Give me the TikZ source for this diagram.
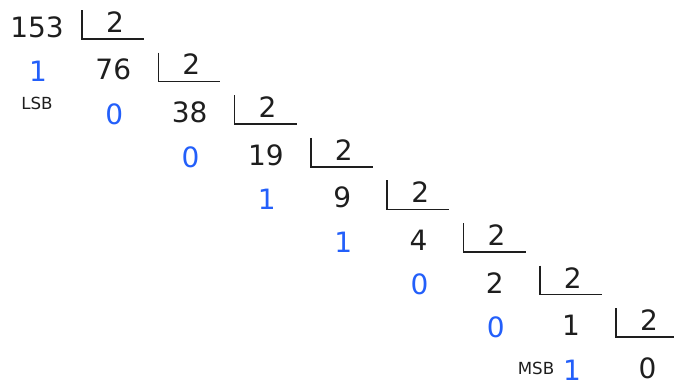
\documentclass[tikz,border=0pt]{standalone}
\usepackage{fontspec}
\setmainfont{DejaVu Sans}
\definecolor{bitblue}{RGB}{35,95,250}
\definecolor{ink}{RGB}{30,30,30}
\begin{document}
\begin{tikzpicture}[x=0.75pt,y=-0.75pt,
    num/.style={text=ink, font=\fontsize{21}{24}\selectfont},
    bit/.style={num, text=bitblue},
    tag/.style={text=ink, font=\fontsize{12.5}{14}\selectfont},
    bar/.style={draw=ink, line width=1.1pt}]
    \useasboundingbox (0,0) rectangle (674,387);

    % Quotients
    \foreach \q [count=\n from 0] in {153,76,38,19,9,4,2,1,0}
        \node[num] (q\n) at (37+76.3*\n, 27+42.6*\n) {\q};

    % Remainders (blue)
    \foreach \r [count=\n from 1] in {1,0,0,1,1,0,0,1}
        \node[bit] (r\n) at (38+76.3*\n-76.3, 29+42.6*\n) {\r};

    % Divisors with their brackets
    \foreach \n in {0,...,7}{
        \node[num] (d\n) at (115+76.3*\n, 22+42.6*\n) {2};
        \draw[bar] (82+76.3*\n, 10+42.6*\n) -- ++(0,29) -- ++(62,0);
    }

    % Bit order
    \node[tag] (lsb) at (37,103) {LSB};
    \node[tag] (msb) at (536,368) {MSB};

\end{tikzpicture}
\end{document}
